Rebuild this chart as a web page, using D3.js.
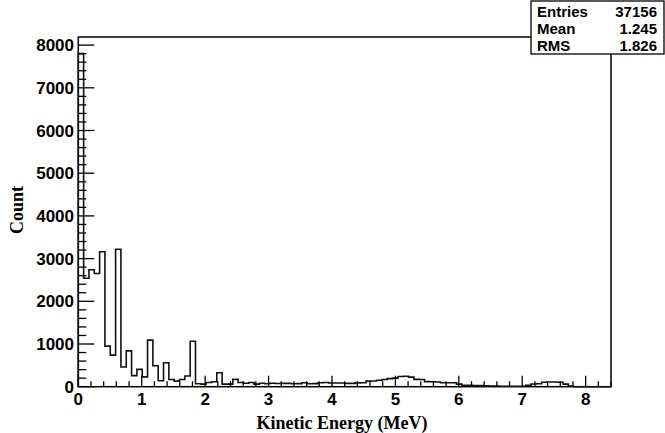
<!DOCTYPE html>
<html>
<head>
<meta charset="utf-8">
<script src="https://cdn.jsdelivr.net/npm/d3@7"></script>
<style>
  body { margin: 0; background: #fff; }
  svg { display: block; }
  .lbl { font-family: "Liberation Sans", Arial, sans-serif; font-weight: bold; font-size: 17px; }
  .ttl { font-family: "Liberation Serif", "Times New Roman", serif; font-weight: bold; font-size: 18px; }
</style>
</head>
<body>
<svg id="chart" width="665" height="433"></svg>
<script>
// histogram: 100 bins from 0 to 8.4 MeV
var bin_lo = 0, bin_hi = 8.4;
var counts = [
  7800, 2540, 2740, 2650, 3160, 950, 740, 3220, 460, 840,
  260, 405, 230, 1090, 490, 140, 560, 170, 130, 170,
  250, 1065, 70, 60, 100, 117, 327, 60, 60, 172,
  100, 80, 100, 60, 80, 70, 80, 75, 78, 78,
  70, 72, 93, 70, 72, 93, 100, 85, 88, 85,
  78, 78, 90, 93, 130, 132, 150, 170, 190, 200,
  240, 245, 225, 172, 170, 120, 117, 110, 93, 93,
  93, 60, 35, 30, 28, 25, 20, 18, 15, 12,
  12, 10, 10, 12, 30, 65, 70, 105, 110, 110,
  105, 60, 15, 0, 0, 0, 0, 0, 0, 0
];
var x_ticks = [0, 1, 2, 3, 4, 5, 6, 7, 8];
var y_ticks = [0, 1000, 2000, 3000, 4000, 5000, 6000, 7000, 8000];
var y_max = 8190;
var stats_names = ["Entries", "Mean", "RMS"];
var stats_values = ["37156", "1.245", "1.826"];

var frame = {left: 78.3, right: 611, top: 37, bottom: 386.7};
var svg = d3.select("#chart");

var x_scale = d3.scaleLinear().domain([bin_lo, bin_hi]).range([frame.left, frame.right]);
var y_scale = d3.scaleLinear().domain([0, y_max]).range([frame.bottom, frame.top]);

// frame
svg.append("rect")
    .attr("x", frame.left).attr("y", frame.top)
    .attr("width", frame.right - frame.left)
    .attr("height", frame.bottom - frame.top)
    .attr("fill", "white").attr("stroke", "black").attr("stroke-width", 1.5);

// histogram outline
var bw = (bin_hi - bin_lo) / counts.length;
var pts = [[bin_lo, 0]];
counts.forEach(function(c, i) {
    pts.push([bin_lo + i * bw, c]);
    pts.push([bin_lo + (i + 1) * bw, c]);
});
pts.push([bin_hi, 0]);
svg.append("path")
    .attr("d", d3.line().x(function(d){return x_scale(d[0]);}).y(function(d){return y_scale(d[1]);})(pts))
    .attr("fill", "none").attr("stroke", "#111").attr("stroke-width", 1.6);

// x ticks (inside, pointing up)
var x_minor = d3.range(0, bin_hi + 0.001, 0.2);
svg.selectAll("line.xminor").data(x_minor).enter().append("line")
    .attr("x1", function(d){return x_scale(d);}).attr("x2", function(d){return x_scale(d);})
    .attr("y1", frame.bottom).attr("y2", function(d){
        return Math.abs(d - Math.round(d)) < 1e-6 ? frame.bottom - 11 : frame.bottom - 5.5;
    })
    .attr("stroke", "black").attr("stroke-width", 1.3);
svg.selectAll("text.xl").data(x_ticks).enter().append("text")
    .attr("class", "lbl")
    .attr("x", function(d){return x_scale(d);}).attr("y", 405)
    .attr("text-anchor", "middle").text(function(d){return d;});

// y ticks (inside, pointing right)
var y_minor = d3.range(0, 8001, 200);
svg.selectAll("line.yminor").data(y_minor).enter().append("line")
    .attr("y1", function(d){return y_scale(d);}).attr("y2", function(d){return y_scale(d);})
    .attr("x1", frame.left).attr("x2", function(d){
        return d % 1000 === 0 ? frame.left + 16 : frame.left + 8;
    })
    .attr("stroke", "black").attr("stroke-width", 1.3);
svg.selectAll("text.yl").data(y_ticks).enter().append("text")
    .attr("class", "lbl")
    .attr("x", 74).attr("y", function(d){return y_scale(d) + 6;})
    .attr("text-anchor", "end").text(function(d){return d;});

// axis titles
svg.append("text").attr("class", "ttl")
    .attr("x", 342).attr("y", 429).attr("text-anchor", "middle")
    .text("Kinetic Energy (MeV)");
svg.append("text").attr("class", "ttl")
    .attr("transform", "translate(23,210) rotate(-90)")
    .attr("text-anchor", "middle").text("Count");

// stats box
var box = {x: 531, y: 1, w: 133, h: 53};
svg.append("rect")
    .attr("x", box.x).attr("y", box.y).attr("width", box.w).attr("height", box.h)
    .attr("fill", "white").attr("stroke", "black").attr("stroke-width", 1.3);
stats_names.forEach(function(n, i) {
    svg.append("text").attr("class", "lbl").style("font-size", "15px")
        .attr("x", box.x + 6).attr("y", box.y + 16 + i * 16.8).text(n);
    svg.append("text").attr("class", "lbl").style("font-size", "15px")
        .attr("x", box.x + box.w - 7).attr("y", box.y + 16 + i * 16.8)
        .attr("text-anchor", "end").text(stats_values[i]);
});
</script>
</body>
</html>
